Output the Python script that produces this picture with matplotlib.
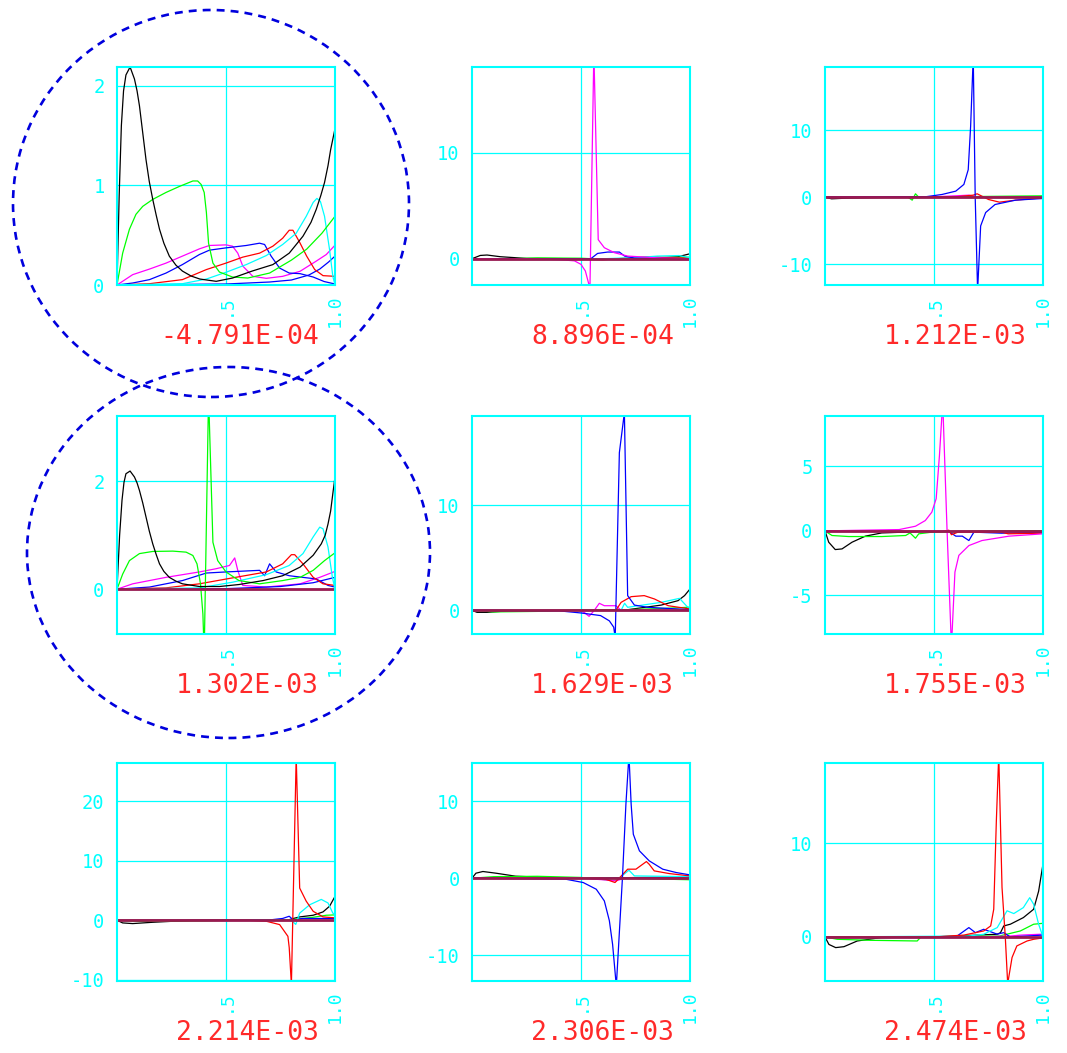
import matplotlib
matplotlib.use("Agg")
import matplotlib.pyplot as plt
from matplotlib.patches import Ellipse

# eigenvector components along the span, one panel per eigenvalue
p1_black = [(0, 0), (0.01, 0.9), (0.02, 1.6), (0.03, 1.95), (0.041, 2.11),
            (0.06, 2.19), (0.08, 2.07), (0.092, 1.95), (0.103, 1.80),
            (0.118, 1.53), (0.133, 1.26), (0.148, 1.04), (0.164, 0.86),
            (0.18, 0.70), (0.195, 0.56), (0.215, 0.42), (0.24, 0.29),
            (0.27, 0.20), (0.30, 0.14), (0.34, 0.09), (0.38, 0.06),
            (0.455, 0.037), (0.53, 0.07), (0.62, 0.14), (0.715, 0.205),
            (0.79, 0.32), (0.853, 0.49), (0.89, 0.63), (0.914, 0.76),
            (0.935, 0.90), (0.952, 1.03), (0.968, 1.20), (0.98, 1.36),
            (1.0, 1.57)]
p1_green = [(0, 0), (0.026, 0.32), (0.057, 0.56), (0.087, 0.71), (0.118, 0.79),
            (0.164, 0.86), (0.225, 0.93), (0.286, 0.99), (0.348, 1.045),
            (0.37, 1.045), (0.386, 1.01), (0.40, 0.93), (0.41, 0.73),
            (0.42, 0.42), (0.44, 0.22), (0.47, 0.13), (0.53, 0.08),
            (0.6, 0.07), (0.7, 0.12), (0.8, 0.25), (0.87, 0.36),
            (0.94, 0.52), (1.0, 0.69)]
p1_magenta = [(0, 0), (0.072, 0.104), (0.149, 0.16), (0.225, 0.22),
              (0.317, 0.306), (0.378, 0.363), (0.424, 0.397), (0.50, 0.403),
              (0.53, 0.39), (0.554, 0.32), (0.577, 0.19), (0.623, 0.087),
              (0.685, 0.067), (0.76, 0.087), (0.84, 0.138), (0.914, 0.24),
              (0.96, 0.306), (1.0, 0.40)]
p1_blue_a = [(0, 0), (0.072, 0.02), (0.149, 0.054), (0.225, 0.12),
             (0.30, 0.205), (0.378, 0.306), (0.424, 0.35), (0.50, 0.373),
             (0.593, 0.397), (0.654, 0.42), (0.677, 0.407), (0.707, 0.29),
             (0.746, 0.17), (0.79, 0.12), (0.84, 0.114), (0.90, 0.08),
             (0.95, 0.035), (1.0, 0.01)]
p1_blue_b = [(0, 0), (0.5, 0.01), (0.7, 0.03), (0.8, 0.05), (0.88, 0.1),
             (0.93, 0.16), (0.97, 0.23), (1.0, 0.29)]
p1_red = [(0, 0), (0.149, 0.013), (0.30, 0.054), (0.41, 0.155), (0.50, 0.22),
          (0.577, 0.28), (0.654, 0.32), (0.715, 0.39), (0.76, 0.47),
          (0.79, 0.55), (0.807, 0.55), (0.84, 0.42), (0.87, 0.29),
          (0.907, 0.155), (0.945, 0.094), (1.0, 0.087)]
p1_cyan = [(0, 0), (0.30, 0.013), (0.41, 0.06), (0.50, 0.128), (0.593, 0.205),
           (0.685, 0.296), (0.76, 0.407), (0.822, 0.52), (0.868, 0.69),
           (0.90, 0.83), (0.917, 0.87), (0.933, 0.84), (0.952, 0.69),
           (0.975, 0.356), (0.99, 0.087), (1.0, 0.0)]

p2_magenta = [(0, 0), (0.3, -0.02), (0.41, -0.1), (0.47, -0.2), (0.50, -0.53),
              (0.52, -1.16), (0.541, -2.8), (0.559, 19.5), (0.579, 1.8),
              (0.607, 1.04), (0.653, 0.57), (0.714, 0.25), (0.87, 0.06),
              (1.0, 0.0)]
p2_blue = [(0, 0), (0.545, 0.0), (0.576, 0.5), (0.622, 0.63), (0.676, 0.63),
           (0.70, 0.25), (0.745, 0.06), (1.0, 0.0)]
p2_black = [(0, 0), (0.038, 0.31), (0.069, 0.35), (0.13, 0.19), (0.25, 0.03),
            (0.5, 0.0), (0.8, 0.02), (0.945, 0.19), (1.0, 0.47)]
p2_green = [(0, 0), (0.1, -0.05), (0.3, 0.08), (0.5, 0.05), (0.6, -0.05),
            (0.8, 0.1), (1.0, 0.15)]
p2_red = [(0, 0), (0.5, -0.05), (0.6, -0.1), (0.7, 0.05), (0.82, 0.2),
          (0.9, 0.1), (1.0, 0.05)]
p2_cyan = [(0, 0), (0.6, 0.0), (0.75, 0.1), (0.85, 0.25), (0.95, 0.3),
           (1.0, 0.1)]

p3_blue = [(0, 0), (0.46, 0.05), (0.537, 0.4), (0.6, 0.9), (0.637, 1.9),
           (0.657, 4.1), (0.668, 10.6), (0.68, 21.0), (0.689, 0.0),
           (0.70, -14.0), (0.714, -4.3), (0.737, -2.3), (0.78, -1.1),
           (0.874, -0.45), (1.0, -0.2)]
p3_green = [(0, 0), (0.38, 0.0), (0.40, -0.45), (0.415, 0.5), (0.43, 0.0),
            (1.0, 0.2)]
p3_red = [(0, 0), (0.6, 0.05), (0.68, 0.3), (0.698, 0.5), (0.75, -0.35),
          (0.80, -0.75), (0.874, -0.45), (1.0, -0.1)]
p3_black = [(0, 0), (0.03, -0.25), (0.1, -0.15), (0.3, -0.02), (1.0, 0.0)]
p3_magenta = [(0, 0), (0.5, 0.05), (0.6, 0.2), (0.66, 0.3), (0.7, 0.0),
              (1.0, 0.0)]

p4_black = [(0, 0), (0.012, 1.0), (0.023, 1.65), (0.032, 1.98), (0.041, 2.14),
            (0.06, 2.19), (0.08, 2.08), (0.092, 1.97), (0.103, 1.83),
            (0.118, 1.60), (0.133, 1.34), (0.148, 1.08), (0.164, 0.84),
            (0.18, 0.64), (0.195, 0.47), (0.215, 0.33), (0.24, 0.22),
            (0.27, 0.15), (0.30, 0.10), (0.378, 0.05), (0.47, 0.05),
            (0.56, 0.087), (0.67, 0.16), (0.76, 0.25), (0.84, 0.41),
            (0.90, 0.63), (0.937, 0.84), (0.955, 1.0), (0.968, 1.21),
            (0.98, 1.45), (0.99, 1.77), (1.0, 2.08)]
p4_green = [(0, 0), (0.026, 0.28), (0.057, 0.53), (0.103, 0.66), (0.164, 0.70),
            (0.256, 0.706), (0.317, 0.687), (0.348, 0.625), (0.367, 0.47),
            (0.383, 0.10), (0.394, -0.46), (0.40, -1.2), (0.42, 3.6),
            (0.44, 0.87), (0.462, 0.53), (0.50, 0.32), (0.56, 0.16),
            (0.654, 0.10), (0.76, 0.16), (0.84, 0.22), (0.90, 0.35),
            (0.952, 0.53), (1.0, 0.675)]
p4_magenta = [(0, 0), (0.072, 0.10), (0.225, 0.22), (0.378, 0.32),
              (0.455, 0.38), (0.516, 0.44), (0.54, 0.58), (0.554, 0.35),
              (0.577, 0.07), (0.685, 0.04), (0.84, 0.10), (0.93, 0.22),
              (1.0, 0.33)]
p4_blue_a = [(0, 0), (0.149, 0.04), (0.30, 0.16), (0.41, 0.30), (0.50, 0.32),
             (0.654, 0.35), (0.677, 0.25), (0.70, 0.47), (0.73, 0.32),
             (0.79, 0.25), (0.914, 0.19), (0.968, 0.07), (1.0, 0.04)]
p4_blue_b = [(0, 0), (0.5, 0.01), (0.75, 0.05), (0.9, 0.12), (1.0, 0.22)]
p4_red = [(0, 0), (0.225, 0.025), (0.378, 0.10), (0.53, 0.21), (0.685, 0.32),
          (0.76, 0.47), (0.80, 0.64), (0.815, 0.64), (0.853, 0.47),
          (0.90, 0.22), (0.945, 0.10), (1.0, 0.07)]
p4_cyan = [(0, 0), (0.378, 0.025), (0.53, 0.13), (0.685, 0.27), (0.79, 0.44),
           (0.853, 0.66), (0.90, 0.97), (0.93, 1.15), (0.945, 1.12),
           (0.968, 0.78), (0.988, 0.22), (1.0, 0.0)]

p5_blue = [(0, 0), (0.4, -0.05), (0.5, -0.25), (0.59, -0.5), (0.63, -1.0),
           (0.65, -1.6), (0.657, -2.6), (0.676, 15.0), (0.699, 18.8),
           (0.714, 1.4), (0.745, 0.5), (0.806, 0.29), (1.0, 0.06)]
p5_red = [(0, 0), (0.66, 0.0), (0.684, 0.76), (0.73, 1.3), (0.79, 1.4),
          (0.837, 1.08), (0.90, 0.44), (1.0, 0.13)]
p5_magenta = [(0, 0), (0.49, 0.0), (0.515, -0.2), (0.537, -0.57),
              (0.56, -0.03), (0.584, 0.67), (0.607, 0.44), (0.66, 0.44),
              (0.684, 0.0), (1.0, 0.0)]
p5_cyan = [(0, 0), (0.684, 0.0), (0.70, 0.67), (0.714, 0.29), (0.868, 0.76),
           (0.952, 1.14), (0.983, 0.44), (1.0, 0.1)]
p5_black = [(0, 0), (0.023, -0.19), (0.07, -0.19), (0.177, -0.03), (0.4, 0.0),
            (0.7, 0.02), (0.868, 0.5), (0.945, 0.92), (0.975, 1.4),
            (1.0, 2.03)]
p5_green = [(0, 0), (0.1, -0.15), (0.3, -0.1), (0.44, 0.0), (0.7, 0.05),
            (0.9, 0.2), (1.0, 0.3)]

p6_magenta = [(0, 0), (0.34, 0.1), (0.415, 0.36), (0.46, 0.8), (0.49, 1.45),
              (0.51, 2.5), (0.525, 5.85), (0.54, 10.0), (0.56, 0.0),
              (0.58, -9.0), (0.596, -3.2), (0.614, -1.9), (0.66, -1.14),
              (0.72, -0.75), (0.844, -0.41), (1.0, -0.23)]
p6_black = [(0, 0), (0.017, -0.88), (0.047, -1.45), (0.078, -1.4),
            (0.124, -0.88), (0.185, -0.41), (0.26, -0.16), (0.45, -0.05),
            (1.0, 0.0)]
p6_green = [(0, 0), (0.032, -0.36), (0.109, -0.44), (0.26, -0.44),
            (0.37, -0.36), (0.39, -0.16), (0.415, -0.57), (0.43, -0.23),
            (0.49, -0.1), (0.7, -0.05), (1.0, 0.0)]
p6_blue = [(0, 0), (0.568, -0.05), (0.6, -0.41), (0.63, -0.41), (0.66, -0.75),
           (0.683, -0.1), (0.81, -0.18), (1.0, -0.1)]
p6_red = [(0, 0), (0.54, -0.05), (0.568, 0.05), (0.58, -0.3), (0.61, -0.1),
          (0.81, -0.1), (0.84, -0.23), (1.0, -0.18)]

p7_red = [(0, 0), (0.6, 0.0), (0.685, -0.17), (0.746, -0.73), (0.784, -2.7),
          (0.79, -4.6), (0.80, -10.8), (0.822, 27.5), (0.838, 5.4),
          (0.868, 3.2), (0.90, 1.5), (0.945, 0.56), (1.0, 0.4)]
p7_cyan = [(0, 0), (0.8, 0.0), (0.82, -0.7), (0.838, 1.2), (0.884, 2.6),
           (0.937, 3.5), (0.968, 2.9), (0.99, 1.2), (1.0, 0.9)]
p7_black = [(0, 0), (0.026, -0.45), (0.072, -0.56), (0.164, -0.34),
            (0.35, 0.0), (0.79, 0.1), (0.807, 0.28), (0.838, 0.56),
            (0.90, 0.84), (0.945, 1.4), (0.975, 2.35), (1.0, 4.0)]
p7_blue = [(0, 0), (0.7, 0.05), (0.76, 0.3), (0.79, 0.67), (0.81, 0.0),
           (0.85, 0.3), (1.0, 0.3)]
p7_green = [(0, 0), (0.1, -0.2), (0.4, -0.1), (0.5, 0.0), (0.8, 0.1),
            (0.9, 0.5), (0.96, 0.84), (1.0, 0.9)]

p8_blue = [(0, 0), (0.43, -0.13), (0.51, -0.56), (0.57, -1.43), (0.607, -2.94),
           (0.63, -5.5), (0.645, -8.6), (0.662, -14.0), (0.69, 0.0),
           (0.706, 9.6), (0.72, 16.0), (0.73, 9.6), (0.74, 5.7),
           (0.768, 3.55), (0.813, 2.25), (0.875, 1.17), (0.936, 0.74),
           (1.0, 0.43)]
p8_red = [(0, 0), (0.6, 0.0), (0.656, -0.56), (0.675, 0.0), (0.714, 1.17),
          (0.752, 1.17), (0.80, 2.16), (0.813, 1.8), (0.836, 0.95),
          (0.905, 0.6), (1.0, 0.3)]
p8_cyan = [(0, 0), (0.675, 0.0), (0.72, 1.04), (0.745, 0.3), (1.0, 0.2)]
p8_black = [(0, 0), (0.018, 0.65), (0.05, 0.87), (0.11, 0.65), (0.2, 0.26),
            (0.43, 0.0), (1.0, 0.15)]
p8_green = [(0, 0), (0.1, 0.2), (0.3, 0.25), (0.5, 0.1), (0.65, -0.3),
            (0.7, 0.0), (1.0, -0.2)]
p8_magenta = [(0, 0), (0.5, 0.0), (0.6, -0.2), (0.66, -0.35), (0.7, 0.0),
              (1.0, 0.0)]

p9_red = [(0, 0), (0.5, 0.0), (0.637, 0.2), (0.728, 0.64), (0.76, 1.18),
          (0.774, 2.96), (0.786, 12.4), (0.797, 19.5), (0.812, 5.3),
          (0.827, 0.0), (0.838, -5.0), (0.858, -2.2), (0.88, -0.96),
          (0.927, -0.43), (0.957, -0.25), (1.0, -0.1)]
p9_black = [(0, 0), (0.018, -0.8), (0.049, -1.14), (0.087, -1.04),
            (0.148, -0.43), (0.255, -0.07), (0.5, 0.0), (0.79, 0.29),
            (0.805, 0.46), (0.82, 1.18), (0.85, 1.36), (0.91, 2.07),
            (0.957, 2.96), (0.98, 4.9), (1.0, 7.8)]
p9_cyan = [(0, 0), (0.66, 0.1), (0.728, 0.29), (0.79, 1.0), (0.835, 2.8),
           (0.866, 2.5), (0.91, 3.14), (0.939, 4.2), (0.957, 3.5),
           (0.98, 1.36), (1.0, 0.0)]
p9_blue = [(0, 0), (0.6, 0.0), (0.66, 1.0), (0.69, 0.46), (0.728, 0.82),
           (0.79, 0.3), (0.82, 0.46), (0.85, 0.0), (1.0, 0.2)]
p9_green = [(0, 0), (0.056, -0.25), (0.21, -0.36), (0.423, -0.43),
            (0.44, 0.0), (0.8, 0.1), (0.896, 0.64), (0.957, 1.36),
            (1.0, 1.46)]
p9_magenta = [(0, 0), (0.7, 0.0), (0.85, 0.1), (0.9, 0.2), (1.0, 0.3)]

baseline = [(0.0, 0.0), (1.0, 0.0)]

titles = ["-4.791E-04", "8.896E-04", "1.212E-03",
          "1.302E-03", "1.629E-03", "1.755E-03",
          "2.214E-03", "2.306E-03", "2.474E-03"]
ylims = [(0, 2.19), (-2.48, 18.1), (-13.13, 19.45),
         (-0.83, 3.21), (-2.25, 18.48), (-8.0, 8.91),
         (-10.2, 26.4), (-13.33, 14.94), (-4.71, 18.6)]
yticks = [[0, 1, 2], [0, 10], [-10, 0, 10],
          [0, 2], [0, 10], [-5, 0, 5],
          [-10, 0, 10, 20], [-10, 0, 10], [0, 10]]
xticks = [0.5, 1.0]
xticklabels = [".5", "1.0"]

BLACK, GREEN, BLUE = "#000000", "#00ff00", "#0000ff"
RED, CYAN, MAGENTA = "#ff0000", "#00ffff", "#ff00ff"
ZERO = "#9a1a50"

curves = [
    [(MAGENTA, p1_magenta), (BLUE, p1_blue_a), (BLUE, p1_blue_b),
     (RED, p1_red), (CYAN, p1_cyan), (GREEN, p1_green), (BLACK, p1_black)],
    [(BLACK, p2_black), (GREEN, p2_green), (RED, p2_red), (CYAN, p2_cyan),
     (BLUE, p2_blue), (MAGENTA, p2_magenta)],
    [(BLACK, p3_black), (GREEN, p3_green), (MAGENTA, p3_magenta),
     (RED, p3_red), (BLUE, p3_blue)],
    [(MAGENTA, p4_magenta), (BLUE, p4_blue_a), (BLUE, p4_blue_b),
     (RED, p4_red), (CYAN, p4_cyan), (GREEN, p4_green), (BLACK, p4_black)],
    [(BLACK, p5_black), (GREEN, p5_green), (MAGENTA, p5_magenta),
     (CYAN, p5_cyan), (RED, p5_red), (BLUE, p5_blue)],
    [(BLACK, p6_black), (GREEN, p6_green), (BLUE, p6_blue), (RED, p6_red),
     (MAGENTA, p6_magenta)],
    [(BLACK, p7_black), (GREEN, p7_green), (BLUE, p7_blue), (CYAN, p7_cyan),
     (RED, p7_red)],
    [(BLACK, p8_black), (GREEN, p8_green), (MAGENTA, p8_magenta),
     (CYAN, p8_cyan), (RED, p8_red), (BLUE, p8_blue)],
    [(BLACK, p9_black), (GREEN, p9_green), (MAGENTA, p9_magenta),
     (BLUE, p9_blue), (CYAN, p9_cyan), (RED, p9_red)],
]

FIG_W, FIG_H = 1067, 1053
COL_LEFT = [117, 472, 825]
ROW_TOP = [67, 416, 763]
BOX = 218
MONO = "DejaVu Sans Mono"


def draw_panel(fig, left, top, title, ylim, ticks, series):
    """Draws one small eigenvector panel with its eigenvalue below it."""
    rect = [left / FIG_W, 1 - (top + BOX) / FIG_H, BOX / FIG_W, BOX / FIG_H]
    ax = fig.add_axes(rect)
    for color, pts in series:
        xs, ys = zip(*pts)
        ax.plot(xs, ys, color=color, lw=0.9)
    xs, ys = zip(*baseline)
    ax.plot(xs, ys, color=ZERO, lw=2.0)

    ax.set_xlim(0, 1)
    ax.set_ylim(*ylim)
    ax.set_xticks(xticks)
    ax.set_xticklabels(xticklabels, rotation=90, family=MONO, fontsize=13)
    ax.set_yticks(ticks)
    ax.set_yticklabels([str(t) for t in ticks], family=MONO, fontsize=13.5)
    ax.tick_params(axis="both", length=0, colors=CYAN)
    ax.tick_params(axis="x", pad=7)
    ax.tick_params(axis="y", pad=9)
    ax.grid(True, color=CYAN, lw=0.9)
    for spine in ax.spines.values():
        spine.set_color(CYAN)
        spine.set_linewidth(1.5)

    ax.annotate(title, xy=(1, 0), xycoords="axes fraction",
                xytext=(-16, -52), textcoords="offset pixels",
                ha="right", va="center", color="#ff2a2a", fontsize=19,
                family=MONO)


def main():
    fig = plt.figure(figsize=(FIG_W / 100, FIG_H / 100), dpi=100)
    for i in range(9):
        r, c = divmod(i, 3)
        draw_panel(fig, COL_LEFT[c], ROW_TOP[r], titles[i], ylims[i],
                   yticks[i], curves[i])

    # dashed rings around the first two panels of the left column
    for cx, cy, w, h in [(211, 203.5, 396, 387), (228.5, 552.5, 403, 371)]:
        ring = Ellipse((cx / FIG_W, 1 - cy / FIG_H), w / FIG_W, h / FIG_H,
                       transform=fig.transFigure, fill=False,
                       edgecolor="#0000dd", lw=1.9, ls=(0, (3.0, 2.3)))
        fig.add_artist(ring)

    fig.savefig("out.png", dpi=100, facecolor="white")


if __name__ == "__main__":
    main()
